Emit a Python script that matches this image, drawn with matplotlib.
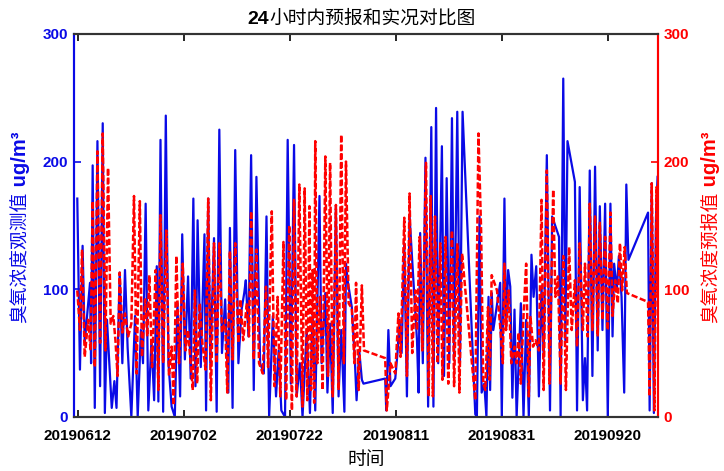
import matplotlib
matplotlib.use('Agg')
import matplotlib.pyplot as plt
import matplotlib.dates as mdates
import pandas as pd

plt.rcParams['font.family'] = ['Liberation Sans', 'Noto Sans CJK SC', 'DejaVu Sans']
CJK = ['Noto Sans CJK SC', 'DejaVu Sans']
LATIN = ['Liberation Sans', 'DejaVu Sans']

start = pd.Timestamp('2019-06-12')

# observed ozone (days since 2019-06-12, ug/m3)
obs_days = [-0.1, 0.4, 0.9, 1.3, 2.3, 2.5, 2.8, 3.2, 3.7, 4.2, 4.7, 5.1, 5.5, 6.4, 6.9, 7.3, 7.9, 8.4,
            8.9, 9.4, 10.1, 10.8, 11.3, 11.9, 12.3, 12.8, 13.3, 13.9, 14.4, 14.9, 15.2, 15.6, 16.1, 16.6,
            17.1, 17.7, 18.3, 18.8, 19.3, 19.7, 20.2, 20.8, 21.3, 21.8, 22.2, 22.6, 23.2, 23.9, 24.2, 24.6,
            25.0, 25.7, 26.2, 26.7, 27.2, 27.8, 28.4, 28.7, 29.2, 29.7, 30.3, 30.9, 31.4, 31.7, 32.2, 32.7,
            33.2, 33.7, 34.4, 35.1, 35.6, 36.1, 36.8, 37.4, 37.9, 38.4, 39.1, 39.6, 40.2, 40.8, 41.3, 41.9,
            42.4, 43.2, 43.8, 44.3, 44.8, 45.6, 46.0, 46.7, 47.1, 47.6, 48.1, 48.7, 49.2, 49.7, 50.3, 50.6,
            50.9, 51.7, 52.3, 52.6, 53.1, 53.6, 53.9, 58.0, 58.2, 58.6, 59.0, 59.9, 60.3, 60.7, 61.1, 61.6,
            62.1, 62.6, 64.0, 64.3, 64.6, 65.1, 65.6, 66.1, 66.7, 67.1, 67.6, 68.0, 68.7, 69.1, 69.6, 70.1,
            70.6, 71.0, 71.6, 72.1, 72.6, 75.0, 75.3, 75.8, 76.2, 76.7, 77.1, 77.5, 77.8, 78.1, 78.4, 79.7,
            80.0, 80.5, 80.8, 81.2, 81.6, 82.0, 82.4, 82.8, 83.6, 84.1, 84.6, 85.1, 85.6, 86.0, 86.5, 87.0,
            87.5, 87.9, 88.5, 89.1, 89.5, 90.8, 91.1, 91.6, 92.0, 92.4, 93.8, 94.2, 94.7, 95.3, 95.7, 96.1,
            96.6, 97.1, 97.6, 98.1, 98.5, 99.0, 99.5, 100.0, 100.5, 100.9, 101.2, 101.7, 102.1, 102.6, 103.1,
            103.5, 103.9, 107.6, 107.9, 108.3, 108.7, 109.1, 109.4]
obs_vals = [171, 37, 134, 58, 105, 42, 197, 7, 216, 24, 230, 3, 76, 7, 28, 7, 113, 42,
            115, 54, 0, 79, 0, 68, 42, 167, 5, 60, 13, 118, 12, 217, 4, 236,
            42, 8, 0, 89, 16, 143, 45, 110, 30, 171, 24, 154, 39, 143, 5, 171,
            42, 140, 4, 225, 50, 92, 19, 148, 7, 209, 42, 84, 97, 107, 63, 205,
            21, 188, 42, 34, 157, 0, 79, 16, 52, 5, 0, 217, 26, 213, 16, 42,
            0, 68, 3, 81, 5, 173, 42, 97, 19, 73, 3, 165, 16, 68, 4, 120,
            107, 86, 42, 13, 52, 29, 26, 30, 5, 68, 24, 30, 49, 76, 50, 136,
            16, 157, 60, 19, 144, 42, 203, 8, 227, 8, 242, 42, 212, 32, 187, 42,
            234, 45, 239, 42, 239, 2, 0, 157, 19, 26, 0, 94, 21, 97, 68, 105,
            0, 171, 68, 115, 102, 15, 84, 0, 89, 0, 76, 0, 127, 94, 118, 16,
            102, 47, 205, 5, 157, 141, 0, 265, 60, 216, 184, 5, 180, 13, 46, 5,
            193, 32, 196, 52, 165, 68, 167, 0, 167, 63, 120, 99, 126, 94, 19,
            182, 123, 160, 5, 183, 3, 157, 188]

# 24h forecast ozone (days since 2019-06-12, ug/m3)
fc_days = [-0.1, 0.4, 0.8, 1.3, 1.95, 2.4, 2.8, 3.2, 3.7, 4.2, 4.7, 5.2, 5.7, 6.2, 6.7, 7.1, 7.5, 7.9,
           8.4, 8.9, 9.5, 10.1, 10.6, 11.1, 11.7, 12.1, 12.7, 13.1, 13.5, 14.0, 14.7, 15.2, 15.6, 16.1,
           16.7, 17.2, 17.7, 18.1, 18.6, 19.1, 19.8, 20.3, 20.8, 21.7, 22.1, 22.5, 23.0, 23.5, 24.1, 24.6,
           25.1, 25.7, 26.2, 26.7, 27.2, 27.8, 28.2, 28.7, 29.2, 29.7, 30.3, 30.7, 31.2, 31.9, 32.3, 32.7,
           33.2, 33.7, 34.2, 34.9, 35.5, 35.9, 36.6, 37.1, 37.7, 38.2, 38.8, 39.3, 39.9, 40.4, 40.8, 41.3,
           41.8, 42.4, 42.8, 43.3, 43.7, 44.0, 44.3, 44.6, 44.8, 45.2, 45.7, 46.2, 46.7, 47.2, 47.6, 48.1,
           48.7, 49.2, 49.7, 50.2, 50.6, 51.1, 51.7, 52.2, 52.5, 53.0, 53.6, 54.0, 58.0, 58.3, 59.0, 59.9,
           60.5, 60.9, 61.6, 62.1, 62.6, 63.1, 63.7, 64.0, 64.5, 65.0, 65.7, 66.2, 66.6, 67.0, 67.4, 67.9,
           68.4, 68.8, 69.4, 69.9, 70.6, 71.0, 71.6, 72.0, 72.5, 75.0, 75.6, 76.1, 76.5, 76.9, 77.4, 77.7,
           78.1, 79.1, 79.7, 80.2, 80.5, 80.8, 81.3, 81.8, 82.4, 82.8, 83.2, 83.6, 84.1, 84.6, 85.1, 85.4,
           85.9, 86.4, 87.0, 87.5, 87.9, 88.5, 89.0, 89.7, 90.1, 90.6, 91.1, 91.6, 92.1, 92.7, 93.2, 93.8,
           94.2, 94.7, 95.3, 95.7, 96.2, 96.6, 97.1, 97.6, 98.1, 98.5, 99.0, 99.5, 100.0, 100.5, 100.9,
           101.4, 101.9, 102.3, 102.7, 103.2, 103.6, 107.6, 107.9, 108.3, 108.8, 109.2, 109.4]
fc_vals = [99, 68, 131, 47, 76, 52, 169, 39, 208, 58, 222, 52, 195, 73, 79, 60, 32, 113,
           66, 81, 63, 73, 173, 34, 169, 47, 92, 63, 111, 39, 115, 21, 158, 42,
           146, 32, 55, 9, 126, 42, 120, 52, 68, 21, 99, 26, 89, 58, 37, 171,
           13, 136, 42, 136, 66, 76, 19, 130, 45, 136, 58, 92, 60, 89, 63, 161,
           45, 131, 42, 34, 102, 39, 161, 24, 94, 16, 137, 13, 150, 5, 170, 16,
           182, 8, 179, 13, 165, 21, 115, 11, 216, 42, 94, 21, 204, 32, 199, 16,
           166, 21, 221, 42, 200, 89, 85, 42, 105, 21, 103, 52, 46, 5, 42, 34,
           81, 47, 156, 32, 175, 50, 99, 68, 141, 52, 199, 16, 173, 16, 157, 42,
           136, 29, 141, 26, 146, 24, 136, 19, 128, 13, 222, 146, 26, 21, 86, 29,
           111, 99, 71, 42, 120, 68, 99, 42, 55, 42, 66, 26, 79, 120, 16, 79,
           55, 60, 52, 170, 21, 193, 26, 178, 94, 110, 26, 126, 21, 133, 68, 107,
           55, 136, 68, 120, 63, 167, 68, 157, 63, 152, 76, 141, 68, 160, 79,
           107, 89, 136, 99, 133, 97, 90, 16, 183, 5, 180, 94]

tick_labels = ['20190612', '20190702', '20190722', '20190811', '20190831', '20190920']

BLUE = '#0a0ae6'
RED = '#ff0000'

obs_t = start + pd.to_timedelta(obs_days, unit='D')
fc_t = start + pd.to_timedelta(fc_days, unit='D')
ticks = pd.to_datetime(tick_labels, format='%Y%m%d')

fig = plt.figure(figsize=(7.24, 4.71), dpi=100)
ax = fig.add_axes([0.102, 0.115, 0.807, 0.813])
ax2 = ax.twinx()

ax.plot(obs_t, obs_vals, color=BLUE, lw=1.6)
ax2.plot(fc_t, fc_vals, color=RED, lw=1.8, ls=(0, (2.5, 1.0)))

ax.set_xlim(start - pd.Timedelta(days=0.75), start + pd.Timedelta(days=109.5))
ax.set_xticks(ticks)
ax.xaxis.set_major_formatter(mdates.DateFormatter('%Y%m%d'))
for a in (ax, ax2):
    a.set_ylim(0, 300)
    a.set_yticks([0, 100, 200, 300])

ax.tick_params(axis='x', direction='in', top=True, length=5, width=1.2, pad=9,
               labelsize=11, colors='black')
ax.tick_params(axis='y', direction='in', length=5, width=1.2, pad=4,
               labelsize=11, colors=BLUE)
ax2.tick_params(axis='y', direction='in', length=5, width=1.2, pad=4,
                labelsize=11, colors=RED)
for lab in ax.get_xticklabels() + ax.get_yticklabels() + ax2.get_yticklabels():
    lab.set_fontweight('bold')

for a in (ax, ax2):
    a.spines['top'].set_color('#333333')
    a.spines['bottom'].set_color('#333333')
    a.spines['top'].set_linewidth(1.5)
    a.spines['bottom'].set_linewidth(1.5)
    a.spines['left'].set_color(BLUE)
    a.spines['right'].set_color(RED)
    a.spines['left'].set_linewidth(1.5)
    a.spines['right'].set_linewidth(1.5)


def split_label(x, y, head, tail, color, rotation=0, size=13.5):
    # bold latin part and regular Chinese part sharing one baseline at (x, y)
    fig.text(x, y, head, family=CJK, fontsize=size, color=color, rotation=rotation,
             rotation_mode='anchor', ha='right', va='baseline')
    fig.text(x, y, tail, family=LATIN, fontsize=size + 1, fontweight='bold', color=color,
             rotation=rotation, rotation_mode='anchor', ha='left', va='baseline')


# title: bold "24" followed by the Chinese text
fig.text(0.372, 0.95, '24', family=LATIN, fontsize=14, fontweight='bold',
         ha='right', va='baseline')
fig.text(0.372, 0.95, '小时内预报和实况对比图', family=CJK, fontsize=13.5,
         ha='left', va='baseline')

split_label(0.036, 0.592, '臭氧浓度观测值', ' ug/m³', BLUE, rotation=90)
split_label(0.989, 0.592, '臭氧浓度预报值', ' ug/m³', RED, rotation=90)

ax.set_xlabel('时间', fontsize=13.5, family=CJK)
ax.xaxis.set_label_coords(0.5, -0.085)

fig.savefig('out.png', dpi=100)
